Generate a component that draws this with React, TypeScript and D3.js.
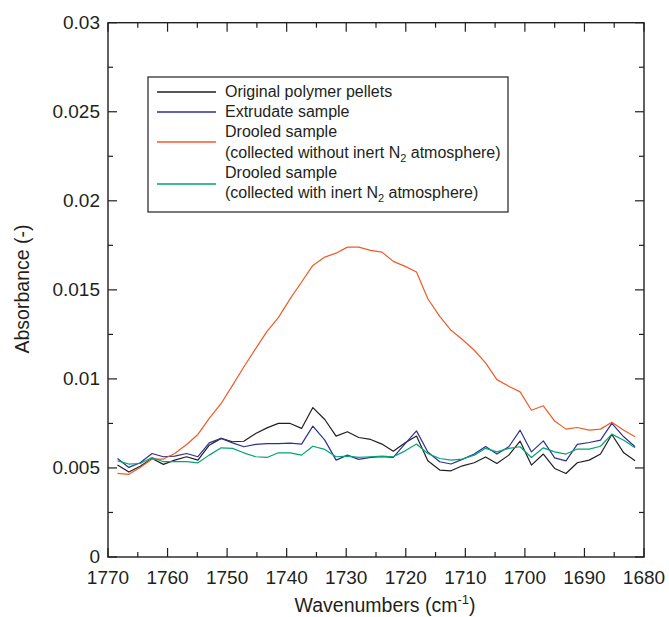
import React from "react";
import * as d3 from "d3";

const wavenumbers = [1768.4, 1766.5, 1764.6, 1762.6, 1760.7, 1758.8, 1756.8, 1754.9, 1753.0, 1751.0, 1749.1, 1747.2, 1745.2, 1743.3, 1741.4, 1739.4, 1737.5, 1735.6, 1733.6, 1731.7, 1729.8, 1727.9, 1725.9, 1724.0, 1722.1, 1720.1, 1718.2, 1716.3, 1714.3, 1712.4, 1710.5, 1708.5, 1706.6, 1704.7, 1702.7, 1700.8, 1698.9, 1696.9, 1695.0, 1693.1, 1691.2, 1689.2, 1687.3, 1685.4, 1683.4, 1681.5];

const pellets = [0.00516, 0.00477, 0.0051, 0.00553, 0.0052, 0.00544, 0.00563, 0.00544, 0.00628, 0.00666, 0.00647, 0.0065, 0.00693, 0.00725, 0.0075, 0.0075, 0.00722, 0.00839, 0.00772, 0.00679, 0.00703, 0.00671, 0.0066, 0.00634, 0.00594, 0.00641, 0.00679, 0.0054, 0.00488, 0.00484, 0.00512, 0.00529, 0.00562, 0.00525, 0.00572, 0.0065, 0.00516, 0.00578, 0.00497, 0.00469, 0.00529, 0.00544, 0.00578, 0.00688, 0.00585, 0.0054];

const extrudate = [0.00553, 0.00503, 0.00529, 0.00581, 0.00563, 0.00566, 0.00581, 0.00563, 0.00641, 0.00666, 0.00641, 0.00619, 0.00632, 0.00637, 0.00637, 0.00639, 0.00634, 0.00735, 0.00656, 0.00544, 0.00572, 0.00548, 0.00559, 0.00563, 0.00559, 0.00637, 0.00708, 0.0059, 0.00535, 0.00522, 0.00548, 0.00578, 0.0062, 0.00578, 0.00619, 0.00712, 0.0059, 0.00652, 0.00557, 0.0054, 0.00632, 0.00643, 0.00656, 0.0075, 0.00675, 0.00619];

const droolAir = [0.00469, 0.00464, 0.00503, 0.0055, 0.0055, 0.00581, 0.00632, 0.00688, 0.00778, 0.00862, 0.00964, 0.01067, 0.0117, 0.01267, 0.01344, 0.01451, 0.01544, 0.01637, 0.01684, 0.01706, 0.0174, 0.0174, 0.01722, 0.01712, 0.0166, 0.01632, 0.016, 0.0145, 0.01351, 0.01273, 0.01221, 0.01161, 0.0109, 0.00996, 0.00959, 0.00927, 0.00824, 0.00849, 0.00763, 0.00718, 0.00727, 0.00712, 0.00718, 0.00757, 0.00712, 0.00675];

const droolN2 = [0.0054, 0.00522, 0.00525, 0.00559, 0.00535, 0.00535, 0.00535, 0.00529, 0.00572, 0.00613, 0.0061, 0.00585, 0.00563, 0.00559, 0.00585, 0.00585, 0.00572, 0.00622, 0.00604, 0.00563, 0.00566, 0.00559, 0.00563, 0.00566, 0.00563, 0.00596, 0.00634, 0.00581, 0.00553, 0.00544, 0.0055, 0.00572, 0.0061, 0.0059, 0.0061, 0.00619, 0.00559, 0.00613, 0.0059, 0.00578, 0.00606, 0.00606, 0.00622, 0.0069, 0.00656, 0.00613];

const xMajorTicks = [1770, 1760, 1750, 1740, 1730, 1720, 1710, 1700, 1690, 1680];
const xMinorTicks = [1765, 1755, 1745, 1735, 1725, 1715, 1705, 1695, 1685];
const yMajorTicks = [0, 0.005, 0.01, 0.015, 0.02, 0.025, 0.03];
const yTickLabels = ["0", "0.005", "0.01", "0.015", "0.02", "0.025", "0.03"];
const yMinorTicks = [0.0025, 0.0075, 0.0125, 0.0175, 0.0225, 0.0275];

const series = [
  { name: "pellets", values: pellets, color: "#231f20" },
  { name: "extrudate", values: extrudate, color: "#2e3192" },
  { name: "droolAir", values: droolAir, color: "#f05a28" },
  { name: "droolN2", values: droolN2, color: "#00a475" },
];

const L = 108, R = 644, T = 22.7, B = 557;
const FONT = "'Liberation Sans', Arial, Helvetica, sans-serif";

export default function App() {
  const x = d3.scaleLinear().domain([1770, 1680]).range([L, R]);
  const y = d3.scaleLinear().domain([0, 0.03]).range([B, T]);
  const line = (vals: number[]) =>
    d3.line<number>().x((_, i) => x(wavenumbers[i])).y((v) => y(v))(vals) || "";

  const axisColor = "#231f20";
  const major = 9, minor = 5;

  return (
    <svg width={669} height={617} style={{ position: "absolute", left: 0, top: 0, background: "#fff" }} fontFamily={FONT}>
      <rect x={0} y={0} width={669} height={617} fill="#fff" />
      {series.map((s) => (
        <path key={s.name} d={line(s.values)} fill="none" stroke={s.color} strokeWidth={1.2} strokeLinejoin="round" />
      ))}
      {/* frame */}
      <rect x={L} y={T} width={R - L} height={B - T} fill="none" stroke={axisColor} strokeWidth={1.4} />
      {/* x ticks */}
      {xMajorTicks.map((t) => (
        <g key={"xm" + t}>
          <line x1={x(t)} x2={x(t)} y1={B} y2={B - major} stroke={axisColor} strokeWidth={1.2} />
          <line x1={x(t)} x2={x(t)} y1={T} y2={T + major} stroke={axisColor} strokeWidth={1.2} />
          <text x={x(t)} y={583.5} textAnchor="middle" fontSize={19} fill={axisColor}>{t}</text>
        </g>
      ))}
      {xMinorTicks.map((t) => (
        <g key={"xn" + t}>
          <line x1={x(t)} x2={x(t)} y1={B} y2={B - minor} stroke={axisColor} strokeWidth={1.2} />
          <line x1={x(t)} x2={x(t)} y1={T} y2={T + minor} stroke={axisColor} strokeWidth={1.2} />
        </g>
      ))}
      {/* y ticks */}
      {yMajorTicks.map((t, i) => (
        <g key={"ym" + t}>
          <line x1={L} x2={L + major} y1={y(t)} y2={y(t)} stroke={axisColor} strokeWidth={1.2} />
          <line x1={R} x2={R - major} y1={y(t)} y2={y(t)} stroke={axisColor} strokeWidth={1.2} />
          <text x={100} y={y(t) - 0.5} dy="0.36em" textAnchor="end" fontSize={19} fill={axisColor}>{yTickLabels[i]}</text>
        </g>
      ))}
      {yMinorTicks.map((t) => (
        <g key={"yn" + t}>
          <line x1={L} x2={L + minor} y1={y(t)} y2={y(t)} stroke={axisColor} strokeWidth={1.2} />
          <line x1={R} x2={R - minor} y1={y(t)} y2={y(t)} stroke={axisColor} strokeWidth={1.2} />
        </g>
      ))}
      {/* axis titles */}
      <text x={385} y={612} textAnchor="middle" fontSize={19.5} fill={axisColor}>
        Wavenumbers (cm<tspan fontSize={13} dy={-8}>-1</tspan><tspan dy={8}>)</tspan>
      </text>
      <text transform="translate(29,289) rotate(-90)" textAnchor="middle" fontSize={19.5} fill={axisColor}>Absorbance (-)</text>
      {/* legend */}
      <rect x={148} y={77} width={360} height={135} fill="#fff" stroke={axisColor} strokeWidth={1.2} />
      <line x1={157} x2={216} y1={92} y2={92} stroke={series[0].color} strokeWidth={1.4} />
      <line x1={157} x2={216} y1={112} y2={112} stroke={series[1].color} strokeWidth={1.4} />
      <line x1={157} x2={216} y1={142} y2={142} stroke={series[2].color} strokeWidth={1.4} />
      <line x1={157} x2={216} y1={184} y2={184} stroke={series[3].color} strokeWidth={1.4} />
      <g fontSize={16} fill={axisColor}>
        <text x={225} y={96.5}>Original polymer pellets</text>
        <text x={225} y={117}>Extrudate sample</text>
        <text x={225} y={137}>Drooled sample</text>
        <text x={225} y={157.5}>(collected without inert N<tspan fontSize={11} dy={4}>2</tspan><tspan dy={-4}> atmosphere)</tspan></text>
        <text x={225} y={178}>Drooled sample</text>
        <text x={225} y={198}>(collected with inert N<tspan fontSize={11} dy={4}>2</tspan><tspan dy={-4}> atmosphere)</tspan></text>
      </g>
    </svg>
  );
}
